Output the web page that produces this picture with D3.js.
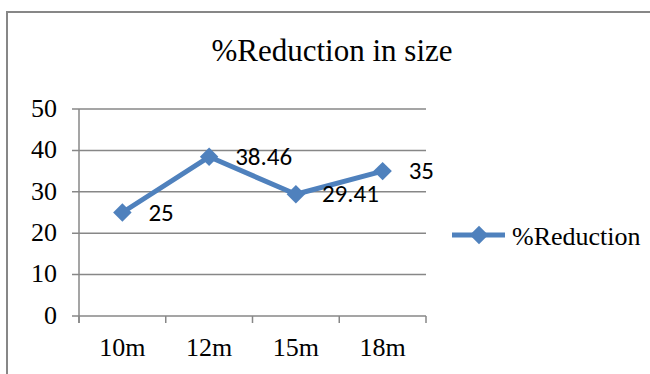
<!DOCTYPE html>
<html>
<head>
<meta charset="utf-8">
<script src="https://cdn.jsdelivr.net/npm/d3@7"></script>
</head>
<body style="margin:0">
<script>
// data
const categories = ["10m", "12m", "15m", "18m"];
const reduction = [25, 38.46, 29.41, 35];
const valueLabels = ["25", "38.46", "29.41", "35"];
const yTicks = [0, 10, 20, 30, 40, 50];
const seriesName = "%Reduction";
const title = "%Reduction in size";

const width = 650, height = 374;
const margin = { top: 109, right: 224, bottom: 58, left: 79 };
const blue = "#4f81bd", grid = "#878787";
const serif = "'Liberation Serif'";
const sans = "'Carlito'";

const svg = d3.select("body").append("svg")
  .attr("width", width)
  .attr("height", height)
  .style("display", "block")
  .style("font-family", serif);

// chart frame (runs off the right/bottom of the picture)
svg.append("rect")
  .attr("x", 7).attr("y", 12)
  .attr("width", 700).attr("height", 400)
  .attr("fill", "none")
  .attr("stroke", grid)
  .attr("stroke-width", 2);

svg.append("text")
  .style("font-family", serif)
  .attr("x", 332).attr("y", 61)
  .attr("text-anchor", "middle")
  .attr("font-size", 31)
  .text(title);

// scales
const x = d3.scaleBand()
  .domain(categories)
  .range([margin.left, width - margin.right]);

const y = d3.scaleLinear()
  .domain([0, 50])
  .range([height - margin.bottom, margin.top]);

// gridlines + y labels
svg.append("g")
  .selectAll("line")
  .data(yTicks)
  .join("line")
  .attr("x1", margin.left - 7)
  .attr("x2", width - margin.right)
  .attr("y1", d => y(d))
  .attr("y2", d => y(d))
  .attr("stroke", grid)
  .attr("stroke-width", 1.5);

svg.append("g")
  .selectAll("text")
  .data(yTicks)
  .join("text")
  .style("font-family", serif)
  .attr("x", 57)
  .attr("y", d => y(d))
  .attr("dy", "0.3em")
  .attr("text-anchor", "end")
  .attr("font-size", 26)
  .text(d => d);

// y axis line
svg.append("line")
  .attr("x1", margin.left).attr("x2", margin.left)
  .attr("y1", y(50)).attr("y2", y(0) + 7)
  .attr("stroke", grid).attr("stroke-width", 1.5);

// x ticks at category boundaries
const bounds = categories.map(d => x(d)).concat([x.range()[1]]);
svg.append("g")
  .selectAll("line")
  .data(bounds)
  .join("line")
  .attr("x1", d => d).attr("x2", d => d)
  .attr("y1", y(0)).attr("y2", y(0) + 7)
  .attr("stroke", grid).attr("stroke-width", 1.5);

svg.append("g")
  .selectAll("text")
  .data(categories)
  .join("text")
  .style("font-family", serif)
  .attr("x", d => x(d) + x.bandwidth() / 2)
  .attr("y", 356)
  .attr("text-anchor", "middle")
  .attr("font-size", 26)
  .text(d => d);

// series
const pts = categories.map((c, i) => ({ c, v: reduction[i], t: valueLabels[i] }));
const cx = d => x(d.c) + x.bandwidth() / 2;

svg.append("path")
  .datum(pts)
  .attr("fill", "none")
  .attr("stroke", blue)
  .attr("stroke-width", 5)
  .attr("stroke-linejoin", "round")
  .attr("d", d3.line().x(cx).y(d => y(d.v)));

const diamond = d3.symbol().type(d3.symbolSquare).size(170);

svg.append("g")
  .selectAll("path")
  .data(pts)
  .join("path")
  .attr("d", diamond)
  .attr("transform", d => `translate(${cx(d)},${y(d.v)}) rotate(45)`)
  .attr("fill", blue);

svg.append("g")
  .selectAll("text")
  .data(pts)
  .join("text")
  .style("font-family", sans)
  .attr("x", d => cx(d) + 26)
  .attr("y", d => y(d.v))
  .attr("dy", "0.33em")
  .attr("font-size", 25)
  .text(d => d.t);

// legend
const lg = svg.append("g").attr("transform", "translate(452,235)");
lg.append("line")
  .attr("x1", 0).attr("x2", 53)
  .attr("stroke", blue).attr("stroke-width", 5);
lg.append("path")
  .attr("d", diamond)
  .attr("transform", "translate(27,0) rotate(45)")
  .attr("fill", blue);
lg.append("text")
  .style("font-family", serif)
  .attr("x", 60).attr("y", 10)
  .attr("font-size", 26)
  .text(seriesName);
</script>
</body>
</html>
